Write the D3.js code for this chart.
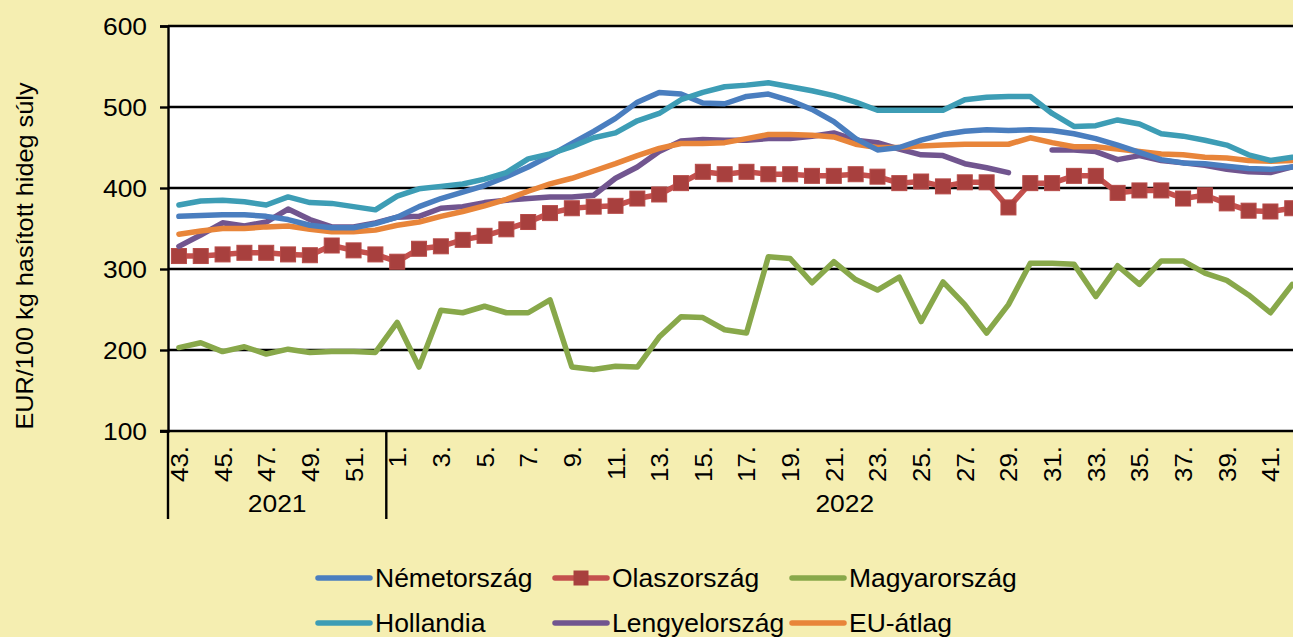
<!DOCTYPE html>
<html><head><meta charset="utf-8">
<script src="https://cdn.jsdelivr.net/npm/d3@7"></script>
<style>html,body{margin:0;padding:0;background:#f5eeb1;overflow:hidden}svg{display:block}</style>
</head><body><svg id="c" width="1293" height="637"></svg>
<script>
const weeks2021 = [43,44,45,46,47,48,49,50,51,52];
const weeks2022 = [1,2,3,4,5,6,7,8,9,10,11,12,13,14,15,16,17,18,19,20,21,22,23,24,25,26,27,28,29,30,31,32,33,34,35,36,37,38,39,40,41,42];
const years = ["2021","2022"];
const yTicks = [100,200,300,400,500,600];
const germany = [365,366,367,367,365,361,354,351,351,356,364,377,387,395,403,414,426,440,455,470,486,506,518,516,505,504,513,516,508,497,482,461,447,450,459,466,470,472,471,472,471,467,461,453,444,435,431,430,427,424,423,426];
const italy = [316,316,318,320,320,318,317,329,323,318,309,325,328,336,341,349,358,369,375,377,378,387,392,406,420,417,420,417,417,415,415,417,414,406,408,402,407,407,376,406,406,415,415,394,397,397,387,391,381,372,371,375];
const hungary = [203,209,198,204,195,201,197,198,198,197,234,179,249,246,254,246,246,262,179,176,180,179,216,241,240,225,221,315,313,283,309,287,274,290,235,284,256,221,256,307,307,306,266,304,281,310,310,295,286,268,246,281];
const holland = [379,384,385,383,379,389,382,381,377,373,390,399,402,405,411,419,436,442,451,462,468,483,492,509,518,525,527,530,525,520,514,506,496,496,496,496,509,512,513,513,492,476,477,484,479,467,464,459,453,441,434,438];
const poland = [328,342,357,353,358,374,361,352,352,357,364,365,375,377,382,385,387,389,389,391,412,426,445,458,460,459,459,461,461,464,468,459,456,448,441,440,430,425,419,null,447,447,445,435,440,434,431,428,423,420,419,426];
const eu = [343,347,350,350,352,353,349,346,346,348,354,358,365,371,378,386,396,405,412,421,430,440,449,455,455,456,461,466,466,465,463,454,450,450,452,453,454,454,454,462,456,451,451,448,445,442,441,438,437,434,433,434];

const cats = weeks2021.map(w => "2021-" + w).concat(weeks2022.map(w => "2022-" + w));
const labelOf = k => k.split("-")[1] + ".";

const series = [
  {name:"Németország", values:germany, color:"#4a7ebf", marker:false},
  {name:"Olaszország", values:italy, color:"#c4504d", marker:true},
  {name:"Magyarország", values:hungary, color:"#88a84a", marker:false},
  {name:"Hollandia", values:holland, color:"#3d9db5", marker:false},
  {name:"Lengyelország", values:poland, color:"#71558f", marker:false},
  {name:"EU-átlag", values:eu, color:"#e8853a", marker:false}
];
const drawOrder = [2,1,4,5,0,3];
const FONT = "Liberation Sans, Arial, sans-serif";

const svg = d3.select("#c");
const L = 168, T = 26, B = 431, W = 52 * 21.83;
const x = d3.scaleBand().domain(cats).range([L, L + W]);
const y = d3.scaleLinear().domain([100, 600]).range([B, T]);

svg.append("defs").append("clipPath").attr("id","clip")
  .append("rect").attr("x", L).attr("y", 0).attr("width", W).attr("height", B + 10);

svg.append("rect").attr("x", L).attr("y", T).attr("width", W).attr("height", B - T).attr("fill", "#fff");

svg.append("g").selectAll("line").data(yTicks.slice(1)).join("line")
  .attr("x1", L).attr("x2", L + W).attr("y1", d => y(d)).attr("y2", d => y(d))
  .attr("stroke", "#000").attr("stroke-width", 2.4);

const ya = svg.append("g").attr("transform", `translate(${L},0)`)
  .call(d3.axisLeft(y).tickValues(yTicks).tickSize(8).tickPadding(6));
ya.select(".domain").attr("stroke", "#000").attr("stroke-width", 2.4);
ya.selectAll(".tick line").attr("stroke", "#000").attr("stroke-width", 2.4);
ya.selectAll("text").attr("x", 0).attr("dy", "0.35em").attr("transform", "translate(-21,0) scale(1.1,1)")
  .attr("font-family", FONT).attr("font-size", 24).attr("fill", "#000");

svg.append("text").attr("transform", "translate(33,256) rotate(-90) scale(1.1,1)")
  .attr("text-anchor", "middle").attr("font-family", FONT)
  .attr("font-size", 23).attr("fill", "#000").text("EUR/100 kg hasított hideg súly");

svg.append("line").attr("x1", L - 8).attr("x2", L + W).attr("y1", B).attr("y2", B)
  .attr("stroke", "#000").attr("stroke-width", 2.4);
const tickCats = cats.filter((c, i) => i % 2 === 0);
svg.append("g").selectAll("text").data(tickCats).join("text")
  .attr("transform", d => `translate(${x(d) + x.bandwidth()/2 + 9},446) rotate(-90) scale(1.08,1)`)
  .attr("text-anchor", "end").attr("font-family", FONT)
  .attr("font-size", 24).attr("fill", "#000").text(labelOf);

const yearStart = yr => x(cats.find(c => c.startsWith(yr)));
const yearEnd = yr => { const cs = cats.filter(c => c.startsWith(yr)); return x(cs[cs.length-1]) + x.bandwidth(); };
const seps = [yearStart("2021"), yearStart("2022")];
svg.append("g").selectAll("line").data(seps).join("line")
  .attr("x1", d => d).attr("x2", d => d).attr("y1", B).attr("y2", 519)
  .attr("stroke", "#000").attr("stroke-width", 2.4);
svg.append("g").selectAll("text").data(years).join("text")
  .attr("transform", d => `translate(${(yearStart(d) + yearEnd(d)) / 2},512) scale(1.1,1)`)
  .attr("text-anchor", "middle").attr("font-family", FONT)
  .attr("font-size", 24).attr("fill", "#000").text(d => d);

const plot = svg.append("g").attr("clip-path", "url(#clip)");
const cx = i => x(cats[i]) + x.bandwidth() / 2;
const line = d3.line().defined(d => d != null).x((d, i) => cx(i)).y(d => y(d));
drawOrder.forEach(k => {
  const s = series[k];
  plot.append("path").datum(s.values).attr("d", line)
    .attr("fill", "none").attr("stroke", s.color).attr("stroke-width", 5.5)
    .attr("stroke-linejoin", "round").attr("stroke-linecap", "round");
  if (s.marker) {
    plot.append("g").selectAll("rect").data(s.values.map((v, i) => ({v, i})).filter(d => d.v != null)).join("rect")
      .attr("x", d => cx(d.i) - 7.5).attr("y", d => y(d.v) - 7.5).attr("width", 15).attr("height", 15)
      .attr("fill", "#a8403e").attr("stroke", "#b64a47").attr("stroke-width", 1);
  }
});

const legPos = [[318,578],[555,578],[792,578],[318,623],[555,623],[792,623]];
series.forEach((s, k) => {
  const [lx, ly] = legPos[k];
  const g = svg.append("g");
  g.append("line").attr("x1", lx).attr("x2", lx + 52).attr("y1", ly).attr("y2", ly)
    .attr("stroke", s.color).attr("stroke-width", 5.5).attr("stroke-linecap", "round");
  if (s.marker) g.append("rect").attr("x", lx + 26 - 7.5).attr("y", ly - 7.5).attr("width", 15).attr("height", 15).attr("fill", "#a8403e");
  g.append("text").attr("transform", `translate(${lx + 57},${ly + 9}) scale(1.06,1)`).attr("font-family", FONT)
    .attr("font-size", 25).attr("fill", "#000").text(s.name);
});
</script></body></html>
